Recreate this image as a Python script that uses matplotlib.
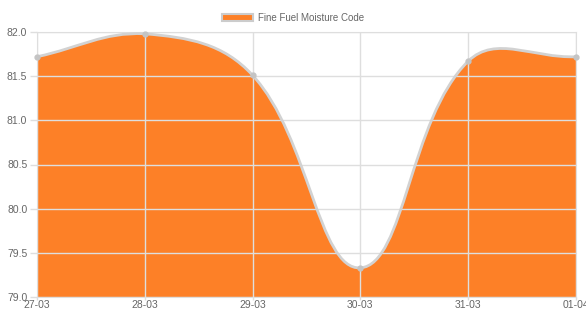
import numpy as np
import matplotlib.pyplot as plt
from matplotlib.path import Path
from matplotlib.patches import PathPatch, Patch

# data
dates = ['27-03', '28-03', '29-03', '30-03', '31-03', '01-04']
ffmc = [81.72, 81.98, 81.51, 79.33, 81.67, 81.72]
y_ticks = [79.0, 79.5, 80.0, 80.5, 81.0, 81.5, 82.0]
label = 'Fine Fuel Moisture Code'

ORANGE = '#fd8027'
LINE = '#d2d2d2'
GRID = '#dedede'
TEXT = '#666666'

plt.rcParams['font.family'] = ['Liberation Sans', 'DejaVu Sans']

fig = plt.figure(figsize=(5.86, 3.12), dpi=100)
ax = fig.add_axes([37 / 586, 15 / 312, 539 / 586, 265 / 312])
x = np.arange(len(dates), dtype=float)
y = np.array(ffmc)
ax.set_xlim(x[0], x[-1])
ax.set_ylim(y_ticks[0], y_ticks[-1])

# chart.js style bezier (tension 0.4), distances measured in pixels
sx = ax.bbox.width / (x[-1] - x[0])
sy = ax.bbox.height / (y_ticks[-1] - y_ticks[0])
t = 0.4
n = len(x)
cp_in, cp_out = [], []
for i in range(n):
    p0 = np.array([x[max(i - 1, 0)], y[max(i - 1, 0)]])
    p1 = np.array([x[i], y[i]])
    p2 = np.array([x[min(i + 1, n - 1)], y[min(i + 1, n - 1)]])
    d01 = np.hypot((p1[0] - p0[0]) * sx, (p1[1] - p0[1]) * sy)
    d12 = np.hypot((p2[0] - p1[0]) * sx, (p2[1] - p1[1]) * sy)
    tot = d01 + d12
    s01 = d01 / tot if tot else 0
    s12 = d12 / tot if tot else 0
    a = p1 - t * s01 * (p2 - p0)
    b = p1 + t * s12 * (p2 - p0)
    for c in (a, b):
        c[0] = np.clip(c[0], x[0], x[-1])
        c[1] = np.clip(c[1], y_ticks[0], y_ticks[-1])
    cp_in.append(a)
    cp_out.append(b)

verts = [(x[0], y[0])]
codes = [Path.MOVETO]
for i in range(n - 1):
    verts += [tuple(cp_out[i]), tuple(cp_in[i + 1]), (x[i + 1], y[i + 1])]
    codes += [Path.CURVE4] * 3

fill_verts = verts + [(x[-1], y_ticks[0]), (x[0], y_ticks[0]), (x[0], y[0])]
fill_codes = codes + [Path.LINETO, Path.LINETO, Path.CLOSEPOLY]

ax.add_patch(PathPatch(Path(fill_verts, fill_codes), facecolor=ORANGE,
                       edgecolor='none', zorder=1))
ax.add_patch(PathPatch(Path(verts, codes), facecolor='none', edgecolor=LINE,
                       lw=2.0, zorder=3))
ax.plot(x, y, 'o', ms=3.5, color='#c4c4c4', zorder=4, clip_on=False)

# axes styling
ax.set_xticks(x)
ax.set_xticklabels(dates)
ax.set_yticks(y_ticks)
ax.set_yticklabels([f'{v:.1f}' for v in y_ticks])
ax.grid(True, color=GRID, lw=1)
ax.set_axisbelow(False)
for s in ax.spines.values():
    s.set_color(GRID)
    s.set_zorder(2)
ax.tick_params(colors=GRID, labelcolor=TEXT, labelsize=7.5, width=1)
ax.tick_params(axis='x', length=2, pad=0.5)
ax.tick_params(axis='y', length=5, pad=2)

fig.legend(handles=[Patch(facecolor=ORANGE, edgecolor='#cccccc', lw=1.5, label=label)],
           loc='center', bbox_to_anchor=(0.5, 0.942), frameon=False,
           fontsize=7, labelcolor=TEXT, handlelength=3.2, handleheight=0.8,
           handletextpad=0.5)

fig.savefig('out.png', dpi=100)
